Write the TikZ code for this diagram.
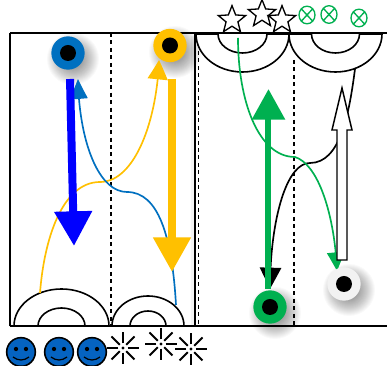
\documentclass[tikz,border=0pt]{standalone}
\usetikzlibrary{arrows.meta,bending,shapes.geometric,calc}
\definecolor{cblue}{HTML}{0070C0}
\definecolor{cyel}{HTML}{FFC000}
\definecolor{cgreen}{HTML}{00B050}
\definecolor{csmile}{HTML}{0563C1}
\tikzset{
  x=.75pt,y=-.75pt,
  frameline/.style={black,line width=1.5pt},
  dashline/.style={black,line width=1.2pt,dash pattern=on 3pt off 2.6pt},
  ring/.style={draw=black,fill=white,line width=1.2pt},
  thin curve/.style={line width=1.25pt},
  starnode/.style={star,star points=5,star point ratio=2.3,draw=black,fill=white,line width=1pt,minimum size=21.5pt,inner sep=0pt},
  dotcirc/.style={circle,fill=black,minimum size=12pt,inner sep=0pt},
  ringcirc/.style={circle,minimum size=25pt,inner sep=0pt},
  smileface/.style={circle,draw=black,line width=1.2pt,fill=csmile,minimum size=21.5pt,inner sep=0pt},
}
\newcommand{\halfring}[8]{% cx, cy, R, Ry, r, ry, start, end
  \path[ring] (#1-#3,#2) arc[start angle=#7,end angle=#8,x radius={#3*0.75pt},y radius={#4*0.75pt}]
    -- (#1+#5,#2) arc[start angle=#8,end angle=#7,x radius={#5*0.75pt},y radius={#6*0.75pt}] -- cycle;}
\newcommand{\softshadow}[2]{\foreach \rr in {26,25,...,10}{\fill[black,opacity=.022] (#1+5,#2+6) circle[radius=\rr*0.75pt];}}
\newcommand{\smiley}[3]{\node[smileface] (#1) at (#2,#3) {};
  \fill[black] (#2-5,#3-3) circle[radius=1.6pt] (#2+5,#3-3) circle[radius=1.6pt];
  \draw[black,line width=.9pt] (#2-8,#3+5) .. controls (#2-3,#3+9) and (#2+3,#3+9) .. (#2+8,#3+5);}
\newcommand{\burst}[2]{\fill[black] (#1,#2) circle[radius=1.3pt];
  \foreach \a in {0,45,...,315}{\draw[black,line width=1.4pt] ($(#1,#2)+(\a:3.4pt)$) -- ($(#1,#2)+(\a:12.2pt)$);}}
\newcommand{\crossell}[2]{\draw[cgreen,line width=1pt] (#1,#2) ellipse[x radius=6pt,y radius=6.6pt]
  (#1-5.5,#2-6) -- (#1+5.5,#2+6) (#1+5.5,#2-6) -- (#1-5.5,#2+6);}
\begin{document}
\begin{tikzpicture}
\useasboundingbox (0,0) rectangle (387,366);
\fill[white] (0,0) rectangle (387,366);
\fill[black,opacity=.04] (191,36) rectangle (195,326);
\softshadow{68}{53}
\softshadow{170}{46}
\softshadow{270}{307}
\softshadow{344}{284}
\draw[frameline] (10.5,326.5) -- (10.5,33);
\draw[black,line width=1.2pt] (195,33) -- (195,326);
\coordinate (tl) at (10,33); \coordinate (tr) at (387,33);
\coordinate (bl) at (10,326.5); \coordinate (br) at (387,326.5);
\coordinate (d1a) at (111,33); \coordinate (d1b) at (111,326);
\coordinate (d2a) at (198.5,36); \coordinate (d2b) at (198.5,326);
\coordinate (d3a) at (294,60); \coordinate (d3b) at (294,326);
\draw[dashline] (d1a) -- (d1b);
\draw[dashline] (d2a) -- (d2b);
\node[starnode] (s1) at (232,20) {};
\node[starnode] (s2) at (262,14) {};
\node[starnode] (s3) at (282,20) {};
\crossell{307}{15}
\crossell{329}{14.5}
\crossell{359}{18}
\halfring{242.5}{34}{46.5}{38}{24.5}{19}{180}{360}
\halfring{335.5}{34}{46.5}{38}{24}{19}{180}{360}
\halfring{61.5}{326}{47.5}{37}{23.5}{18}{180}{0}
\halfring{148}{326}{36}{30}{18}{15}{180}{0}
\draw[dashline] (d3a) -- (d3b);
\draw[frameline] (tl) -- (tr);
\draw[frameline] (bl) -- (br);
\coordinate (yA) at (40,293); \coordinate (yM) at (100,182); \coordinate (yE) at (159,60);
\draw[cyel,thin curve,-{Triangle[length=14.5pt,width=15pt,bend]}] (yA) .. controls (44,240) and (62,182) .. (yM) .. controls (135,182) and (157,120) .. (yE);
\coordinate (bA) at (176,305); \coordinate (bM) at (127,192); \coordinate (bE) at (78,79);
\draw[cblue,thin curve,-{Triangle[length=15pt,width=13pt,bend]}] (bA) .. controls (172,235) and (158,192) .. (bM) .. controls (98,192) and (79,140) .. (bE);
\coordinate (kA) at (355,69); \coordinate (kM) at (310,163); \coordinate (kE) at (270,289);
\draw[black,thin curve,-{Triangle[length=16pt,width=16pt]}] (kA) .. controls (349,115) and (340,163) .. (kM) .. controls (285,163) and (270,225) .. (kE);
\coordinate (gA) at (238,38); \coordinate (gM) at (295,157); \coordinate (gE) at (337,271);
\draw[cgreen,thin curve,-{Triangle[length=14pt,width=13pt,bend]}] (gA) .. controls (238,100) and (258,157) .. (gM) .. controls (320,165) and (335,220) .. (gE);
\coordinate (ba) at (70,79); \coordinate (bb) at (74,246);
\draw[blue,line width=6pt,-{Triangle[length=26pt,width=27pt]}] (ba) -- (bb);
\coordinate (ya) at (172,79); \coordinate (yb) at (172,272);
\draw[cyel,line width=6pt,-{Triangle[length=26pt,width=27pt]}] (ya) -- (yb);
\coordinate (ga) at (268.5,289); \coordinate (gb) at (268.5,89);
\draw[cgreen,line width=4.5pt,-{Triangle[length=23pt,width=24pt]}] (ga) -- (gb);
\draw[black,fill=white,line width=1.1pt] (337,260) -- (337,130) -- (332,130) -- (342,88) -- (352,130) -- (347,130) -- (347,260) -- cycle;
\node[ringcirc,fill=cblue] (c1) at (68,53) {}; \node[dotcirc] (c1i) at (68,53) {};
\node[ringcirc,fill=cyel] (c2) at (170,45.5) {}; \node[dotcirc] (c2i) at (170,45.5) {};
\node[ringcirc,fill=cgreen] (c3) at (270,307) {}; \node[dotcirc] (c3i) at (270,307) {};
\node[ringcirc,fill=black!5] (c4) at (344,284) {}; \node[dotcirc] (c4i) at (344,284) {};
\smiley{f1}{21}{352}
\smiley{f2}{59}{352}
\smiley{f3}{92}{352}
\burst{123}{348}
\burst{161}{344}
\burst{191}{349}
\end{tikzpicture}
\end{document}
